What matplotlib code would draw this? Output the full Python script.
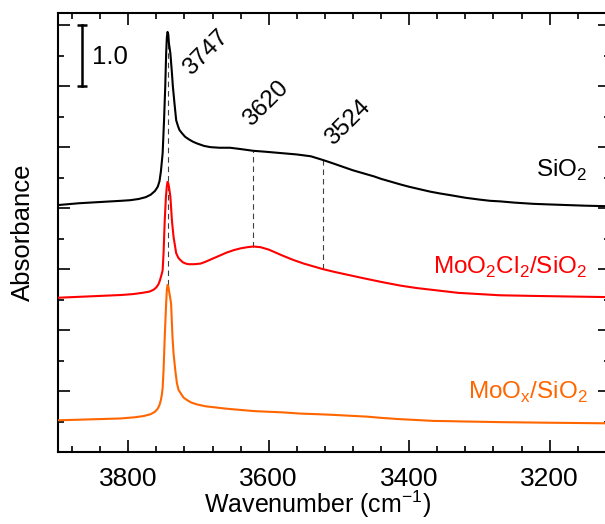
import matplotlib
matplotlib.use('Agg')
import matplotlib.pyplot as plt
from matplotlib.ticker import MultipleLocator

plt.rcParams['font.family'] = ['Liberation Sans', 'DejaVu Sans']
plt.rcParams['mathtext.fontset'] = 'custom'
plt.rcParams['mathtext.rm'] = 'Liberation Sans'

# Spectra (wavenumber in cm-1, absorbance offset)
sio2_wn = [3900, 3870, 3840, 3810, 3797, 3785, 3775, 3768, 3762, 3758, 3755.5,
           3753.5, 3752, 3751, 3749, 3747.3, 3746, 3745, 3744, 3743, 3742, 3740,
           3738, 3736.4, 3734, 3731.7, 3729, 3727, 3723.6, 3719, 3714, 3708, 3702,
           3692, 3683, 3670, 3655, 3641, 3622, 3605, 3590, 3575, 3560, 3540, 3523,
           3510, 3495, 3480, 3465, 3450, 3440, 3425, 3413, 3400, 3385, 3370, 3356,
           3340, 3320, 3300, 3285, 3270, 3250, 3223, 3200, 3175, 3150, 3114]
sio2_abs = [4.05, 4.08, 4.10, 4.12, 4.13, 4.15, 4.18, 4.22, 4.28, 4.35, 4.44,
            4.60, 4.78, 4.90, 5.44, 5.99, 6.54, 6.80, 6.89, 6.85, 6.70, 6.54,
            6.25, 5.99, 5.70, 5.44, 5.34, 5.28, 5.23, 5.17, 5.13, 5.09, 5.06,
            5.02, 5.00, 4.99, 4.99, 4.97, 4.94, 4.925, 4.91, 4.895, 4.88, 4.85, 4.79,
            4.74, 4.68, 4.62, 4.57, 4.52, 4.48, 4.43, 4.39, 4.35, 4.31, 4.27, 4.24,
            4.21, 4.17, 4.14, 4.12, 4.11, 4.09, 4.07, 4.06, 4.05, 4.04, 4.03]

mocl_wn = [3900, 3870, 3840, 3810, 3793, 3780, 3770, 3764, 3760, 3757, 3755,
           3753, 3751, 3749.7, 3748, 3746.3, 3745, 3744, 3743, 3742, 3740, 3737.8,
           3735.5, 3731.7, 3728.4, 3725, 3722, 3718, 3714, 3706, 3697, 3690, 3680,
           3670, 3660, 3650, 3640, 3630, 3622, 3612, 3600, 3590, 3580, 3565, 3550,
           3535, 3523, 3505, 3485, 3465, 3440, 3413, 3390, 3360, 3330, 3300, 3270,
           3223, 3170, 3114]
mocl_abs = [2.53, 2.545, 2.56, 2.575, 2.59, 2.61, 2.63, 2.66, 2.70, 2.75, 2.81,
            2.89, 2.98, 3.26, 3.80, 4.19, 4.36, 4.43, 4.41, 4.35, 4.19, 3.80,
            3.53, 3.26, 3.18, 3.14, 3.11, 3.09, 3.08, 3.08, 3.09, 3.12, 3.17,
            3.22, 3.27, 3.31, 3.34, 3.36, 3.37, 3.36, 3.32, 3.27, 3.22, 3.15, 3.09,
            3.04, 3.00, 2.95, 2.90, 2.85, 2.79, 2.73, 2.69, 2.65, 2.61, 2.59, 2.57,
            2.56, 2.55, 2.54]

moox_wn = [3900, 3870, 3840, 3811, 3790, 3778, 3768, 3762, 3758, 3755.5, 3753.5,
           3752, 3751, 3749.7, 3748, 3746, 3745, 3744, 3743, 3742, 3739, 3737,
           3735.5, 3733, 3730.7, 3728.4, 3724, 3721, 3716, 3710, 3702, 3690, 3675,
           3660, 3640, 3620, 3600, 3580, 3555, 3530, 3510, 3485, 3460, 3440, 3415,
           3390, 3366, 3340, 3320, 3270, 3200, 3114]
moox_abs = [0.52, 0.53, 0.54, 0.55, 0.57, 0.59, 0.62, 0.66, 0.71, 0.77, 0.85,
            0.95, 1.05, 1.34, 1.89, 2.44, 2.66, 2.74, 2.72, 2.65, 2.44, 1.89,
            1.62, 1.34, 1.13, 1.02, 0.94, 0.89, 0.85, 0.81, 0.78, 0.75, 0.73,
            0.71, 0.69, 0.67, 0.66, 0.65, 0.63, 0.62, 0.61, 0.595, 0.58, 0.56, 0.54,
            0.525, 0.51, 0.505, 0.50, 0.49, 0.48, 0.47]

# marked bands
band_pos = [3744, 3622, 3523]
band_low = [2.74, 3.37, 3.00]
band_high = [6.85, 4.94, 4.79]
band_labels = ['3747', '3620', '3524']
band_label_x = [3689, 3603.5, 3487.5]
band_label_y = [6.55, 5.72, 5.40]

# scale bar
bar_x = 3866
bar_y = [6.0, 7.0]

fig = plt.figure(figsize=(6.05, 5.24), dpi=100)
ax = fig.add_axes([58 / 605, 72 / 524, 552 / 605, 439 / 524])

for xp, lo, hi in zip(band_pos, band_low, band_high):
    ax.plot([xp, xp], [lo, hi], color='#404040', lw=0.8, dashes=(5, 3.5), zorder=1)

ax.plot(sio2_wn, sio2_abs, color='black', lw=1.5, zorder=3)
ax.plot(mocl_wn, mocl_abs, color='#ff0000', lw=1.5, zorder=3)
ax.plot(moox_wn, moox_abs, color='#ff6600', lw=1.5, zorder=3)

for lab, lx, ly in zip(band_labels, band_label_x, band_label_y):
    ax.text(lx, ly, lab, rotation=45, ha='center', va='center', fontsize=17.5)

ax.text(3146, 4.62, 'SiO$_2$', ha='right', va='center', fontsize=17.5, color='black')
ax.text(3146, 3.02, 'MoO$_2$Cl$_2$/SiO$_2$', ha='right', va='center', fontsize=17.5,
        color='#ff0000')
ax.text(3146, 0.98, 'MoO$_\\mathregular{x}$/SiO$_2$', ha='right', va='center',
        fontsize=17.5, color='#ff6600')

ax.plot([bar_x, bar_x], bar_y, color='black', lw=1.8, marker='_', ms=7, mew=1.8)
ax.text(3851, 6.48, '1.0', ha='left', va='center', fontsize=18.5)

ax.set_xlim(3900, 3114)
ax.set_ylim(0, 7.2)
ax.xaxis.set_major_locator(MultipleLocator(200))
ax.xaxis.set_minor_locator(MultipleLocator(40))
ax.yaxis.set_major_locator(MultipleLocator(1.0))
ax.yaxis.set_minor_locator(MultipleLocator(0.5))
ax.tick_params(which='both', direction='in', top=True, right=True, width=1.2,
               labelsize=19, labelleft=False)
ax.tick_params(which='major', length=8.6, pad=11)
ax.tick_params(which='minor', length=4.5)
for sp in ax.spines.values():
    sp.set_linewidth(1.5)

ax.set_xlabel('Wavenumber (cm$^{\\mathregular{-1}}$)', fontsize=18)
ax.xaxis.set_label_coords(0.47, -0.084)
ax.set_ylabel('Absorbance', fontsize=18.5)
ax.yaxis.set_label_coords(-0.042, 0.5)

fig.savefig('out.png', dpi=100)
